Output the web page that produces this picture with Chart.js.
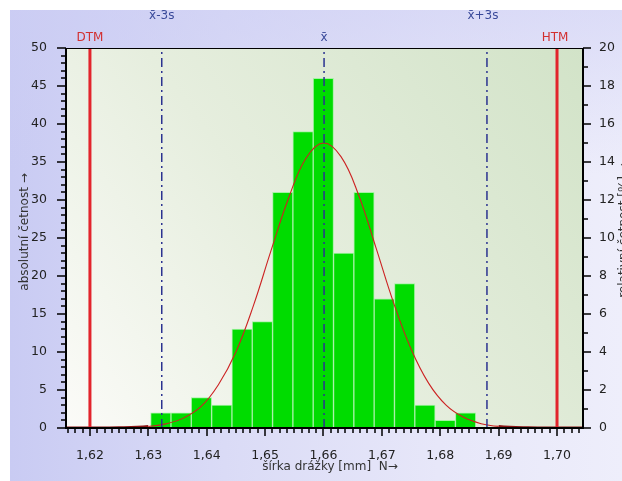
<!DOCTYPE html>
<html>
<head>
<meta charset="utf-8">
<script src="https://cdn.jsdelivr.net/npm/chart.js@4.4.1/dist/chart.umd.min.js"></script>
<style>
  html, body { margin: 0; padding: 0; background: #fff; }
  #wrap { position: relative; width: 622px; height: 481px; overflow: hidden; }
  #panel {
    position: absolute; left: 10px; top: 10px; width: 612px; height: 471px;
    background:
      linear-gradient(to bottom, rgba(205,206,244,0.55) 0%, rgba(205,206,244,0) 35%),
      linear-gradient(to right, #c9cbf3 0%, #dadbf6 35%, #e7e7f9 70%, #eeeefb 100%);
  }
  canvas { position: absolute; left: 0; top: 0; }
</style>
</head>
<body>
<div id="wrap">
  <div id="panel"></div>
  <canvas id="hist" width="622" height="481"></canvas>
</div>
<script>
// histogram data
binStart = 1.6304
binWidth = 0.00348
counts = [2, 2, 4, 3, 13, 14, 31, 39, 46, 23, 31, 17, 19, 3, 1, 2]

// fitted normal curve
curveX = [1.6159, 1.620, 1.625, 1.630, 1.633, 1.636, 1.639, 1.642, 1.645, 1.648, 1.651, 1.654, 1.657, 1.660,
          1.663, 1.666, 1.669, 1.672, 1.675, 1.678, 1.681, 1.684, 1.687, 1.690, 1.695, 1.700, 1.7044]
curveY = [0, 0, 0.03, 0.2, 0.54, 1.3, 2.8, 5.7, 10.0, 16.1, 23.3, 30.2, 35.5, 37.5,
          35.7, 30.7, 23.7, 16.5, 10.4, 5.9, 3.0, 1.4, 0.57, 0.21, 0.03, 0, 0]

// reference lines
DTM = 1.62
HTM = 1.70
mean = 1.6601
lower3s = 1.6323
upper3s = 1.6880

xLabels = [1.62, 1.63, 1.64, 1.65, 1.66, 1.67, 1.68, 1.69, 1.70]
yLabels = [0, 5, 10, 15, 20, 25, 30, 35, 40, 45, 50]
y2Labels = [0, 2, 4, 6, 8, 10, 12, 14, 16, 18, 20]

FONT = '"DejaVu Sans", Verdana, sans-serif'

barData = []
for (let i = 0; i < counts.length; i++) {
    barData.push({ x: binStart + binWidth * (i + 0.5), y: counts[i] })
}
curveData = []
for (let i = 0; i < curveX.length; i++) {
    curveData.push({ x: curveX[i], y: curveY[i] })
}

function vline(x, color, width, dash) {
    return {
        type: 'line',
        data: [{ x: x, y: 0 }, { x: x, y: 50 }],
        borderColor: color,
        borderWidth: width,
        borderDash: dash,
        pointRadius: 0,
        order: 0
    }
}

dashDot = [9, 4, 2, 4]

// frame and axis lines with major/minor ticks
function drawFrame(chart) {
    const a = chart.chartArea
    const c = chart.ctx
    const x = chart.scales.x, y = chart.scales.y, y2 = chart.scales.y2
    c.save()
    c.setLineDash([])
    c.strokeStyle = '#000'
    c.lineWidth = 1.5
    c.beginPath()
    for (let k = 0; k < 80; k++) {
        const v = 1.615 + k * 0.00125
        if (v < x.min || v > x.max) continue
        const major = Math.abs(v * 100 - Math.round(v * 100)) < 1e-6
        const px = Math.round(x.getPixelForValue(v))
        c.moveTo(px, a.bottom)
        c.lineTo(px, a.bottom + (major ? 8 : 5))
    }
    for (let v = 0; v <= 50; v++) {
        const py = Math.round(y.getPixelForValue(v))
        c.moveTo(a.left, py)
        c.lineTo(a.left - (v % 5 == 0 ? 9 : 5), py)
    }
    for (let v = 0; v <= 20; v++) {
        const py = Math.round(y2.getPixelForValue(v))
        c.moveTo(a.right, py)
        c.lineTo(a.right + (v % 2 == 0 ? 8 : 5), py)
    }
    c.stroke()
    // axis lines
    c.lineWidth = 2
    c.beginPath()
    c.moveTo(a.left, a.top)
    c.lineTo(a.left, a.bottom)
    c.lineTo(a.right, a.bottom)
    c.lineTo(a.right, a.top)
    c.stroke()
    c.lineWidth = 1.2
    c.beginPath()
    c.moveTo(a.left, a.top + 0.5)
    c.lineTo(a.right, a.top + 0.5)
    c.stroke()
    c.restore()
}

// plot background, frame, titles and line labels
decor = {
    id: 'decor',
    beforeDatasetsDraw(chart) {
        const a = chart.chartArea
        const c = chart.ctx
        const g = c.createLinearGradient(a.left, a.bottom, a.right, a.top)
        g.addColorStop(0, '#fbfbf8')
        g.addColorStop(0.45, '#e6eede')
        g.addColorStop(1, '#d2e3c8')
        c.save()
        c.fillStyle = g
        c.fillRect(a.left, a.top, a.right - a.left, a.bottom - a.top)
        c.restore()
    },
    afterDatasetsDraw(chart) {
        drawFrame(chart)
    },
    afterDraw(chart) {
        const a = chart.chartArea
        const c = chart.ctx
        const x = chart.scales.x
        c.save()
        // axis titles
        c.fillStyle = '#333'
        c.font = '12px ' + FONT
        c.textAlign = 'center'
        c.textBaseline = 'middle'
        c.fillText('šírka drážky [mm]  N\u2192', 330, 467)
        c.save()
        c.translate(25, 232)
        c.rotate(-Math.PI / 2)
        c.fillText('absolutní četnost \u2192', 0, 0)
        c.restore()
        // right title is cut off by the picture edge in the original
        c.save()
        c.translate(624, 230)
        c.rotate(-Math.PI / 2)
        c.fillText('relativní četnost [%] \u2192', 0, 0)
        c.restore()

        // reference line labels
        c.fillStyle = '#d23030'
        c.fillText('DTM', x.getPixelForValue(DTM), a.top - 10)
        c.fillText('HTM', x.getPixelForValue(HTM) - 2, a.top - 10)
        c.fillStyle = '#3a4a9a'
        c.fillText('x\u0304', x.getPixelForValue(mean), a.top - 10)
        c.fillText('x\u0304-3s', x.getPixelForValue(lower3s), a.top - 32)
        c.fillText('x\u0304+3s', x.getPixelForValue(upper3s) - 4, a.top - 32)
        c.restore()
    }
}

new Chart(document.getElementById('hist'), {
    type: 'bar',
    data: {
        datasets: [
            {
                type: 'line',
                data: curveData,
                borderColor: '#cc2222',
                borderWidth: 1.1,
                pointRadius: 0,
                tension: 0.4,
                order: 1,
                segment: {
                    borderWidth: ctx => (ctx.p0.parsed.y < 0.25 && ctx.p1.parsed.y < 0.25) ? 3 : 1.1,
                    borderColor: ctx => (ctx.p0.parsed.y < 0.25 && ctx.p1.parsed.y < 0.25) ? '#8a1414' : '#cc2222'
                }
            },
            vline(DTM, '#e2242c', 3, []),
            vline(HTM, '#e2242c', 3, []),
            vline(lower3s, '#2b3290', 1.5, dashDot),
            vline(mean, '#2b3290', 1.5, dashDot),
            vline(upper3s, '#2b3290', 1.5, dashDot),
            {
                type: 'bar',
                data: barData,
                backgroundColor: '#00dc00',
                borderColor: '#a4f2a4',
                borderWidth: 1,
                barPercentage: 1,
                categoryPercentage: 1,
                order: 2
            }
        ]
    },
    options: {
        responsive: false,
        animation: false,
        layout: { padding: { left: 0, right: 0, top: 48, bottom: 0 } },
        plugins: { legend: { display: false }, tooltip: { enabled: false } },
        scales: {
            x: {
                type: 'linear',
                offset: false,
                min: 1.6159,
                max: 1.70445,
                grid: { display: false, offset: false },
                border: { display: false },
                afterBuildTicks: s => { s.ticks = xLabels.map(v => ({ value: v })) },
                afterFit: s => { s.height = 53 },
                ticks: {
                    padding: 12,
                    color: '#222',
                    font: { family: FONT, size: 12.5 },
                    maxRotation: 0,
                    callback: v => v.toFixed(2).replace('.', ',')
                }
            },
            y: {
                position: 'left',
                min: 0,
                max: 50,
                grid: { display: false },
                border: { display: false },
                afterBuildTicks: s => { s.ticks = yLabels.map(v => ({ value: v })) },
                afterFit: s => { s.width = 66 },
                ticks: { padding: 11, color: '#222', font: { family: FONT, size: 12.5 } }
            },
            y2: {
                position: 'right',
                min: 0,
                max: 20,
                grid: { display: false },
                border: { display: false },
                afterBuildTicks: s => { s.ticks = y2Labels.map(v => ({ value: v })) },
                afterFit: s => { s.width = 39 },
                ticks: { padding: 8, color: '#222', font: { family: FONT, size: 12.5 } }
            }
        }
    },
    plugins: [decor]
});
</script>
</body>
</html>
